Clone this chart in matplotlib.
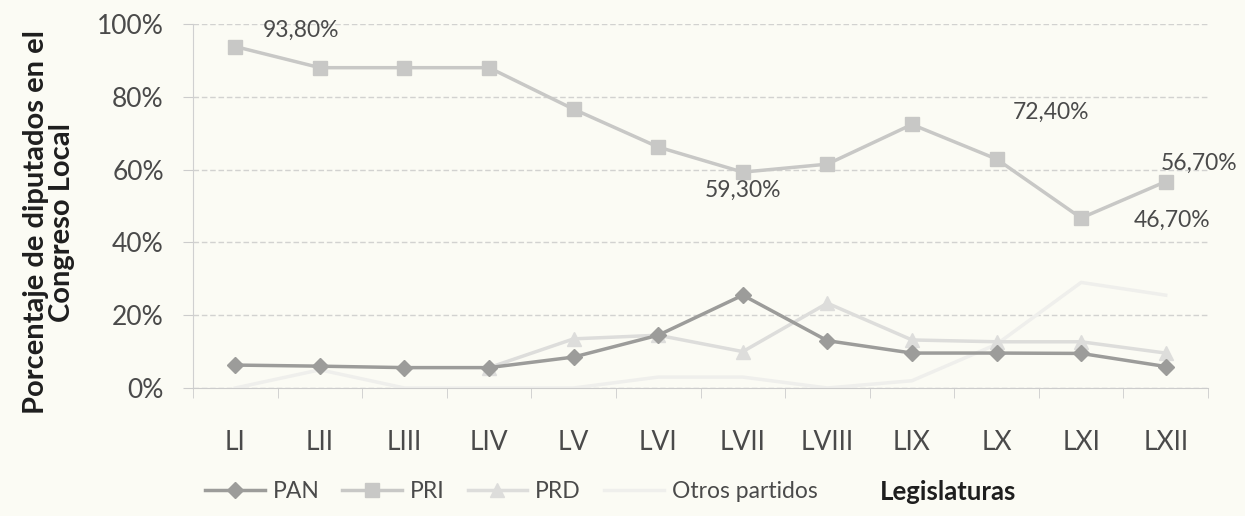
import numpy as np
import matplotlib
matplotlib.use('Agg')
import matplotlib.pyplot as plt

legislaturas = ['LI', 'LII', 'LIII', 'LIV', 'LV', 'LVI', 'LVII', 'LVIII',
                'LIX', 'LX', 'LXI', 'LXII']
pan = [6.3, 6.0, 5.6, 5.6, 8.5, 14.5, 25.5, 13.0, 9.6, 9.6, 9.5, 5.9]
pri = [93.8, 88.0, 88.0, 88.0, 76.6, 66.2, 59.3, 61.5, 72.4, 62.9, 46.7, 56.7]
prd = [np.nan, np.nan, np.nan, 5.6, 13.5, 14.5, 10.0, 23.3, 13.2, 12.7,
       12.7, 9.6]
otros = [0.0, 5.0, 0.0, 0.0, 0.0, 3.0, 3.0, 0.0, 2.0, 12.0, 29.0, 25.5]
etiquetas = {0: '93,80%', 6: '59,30%', 8: '72,40%', 10: '46,70%',
             11: '56,70%'}

plt.rcParams['font.family'] = ['Lato', 'DejaVu Sans']
bg = '#fbfbf4'
txt_color = '#4a4a4a'
fig = plt.figure(figsize=(12.45, 5.16), dpi=100, facecolor=bg)
ax = fig.add_axes([193 / 1245, 1 - 388 / 516, 1015 / 1245, 364 / 516])
ax.set_facecolor(bg)

x = np.arange(len(legislaturas))
ax.plot(x, otros, '-', color='#efefec', lw=2.5, label='Otros partidos',
        zorder=2)
ax.plot(x, prd, '-^', color='#dddddb', lw=2.5, ms=10, label='PRD', zorder=3)
ax.plot(x, pan, '-D', color='#9c9c9a', lw=2.5, ms=8, label='PAN', zorder=4)
ax.plot(x, pri, '-s', color='#c8c8c6', lw=2.5, ms=10.5, label='PRI',
        zorder=5)

# posiciones de las etiquetas de datos (solo PRI), en puntos
offsets = {0: (47, 12, 'center'), 6: (0, -13, 'center'),
           8: (100, 9, 'center'), 10: (38, -2, 'left'),
           11: (24, 13, 'center')}
for i, txt in etiquetas.items():
    dx, dy, ha = offsets[i]
    ax.annotate(txt, (x[i], pri[i]), xytext=(dx, dy),
                textcoords='offset points', ha=ha, va='center', fontsize=16.5,
                color=txt_color)

ax.set_xlim(-0.5, len(legislaturas) - 0.5)
ax.set_ylim(0, 100)
ax.set_yticks(range(0, 101, 20))
ax.set_yticklabels(['%d%%' % v for v in range(0, 101, 20)], fontsize=19,
                   color=txt_color)
ax.set_xticks(x)
ax.set_xticklabels(legislaturas, fontsize=19, color=txt_color)
ax.set_xticks(np.arange(-0.5, len(legislaturas)), minor=True)
ax.tick_params(axis='x', which='major', length=0, pad=30)
ax.tick_params(axis='x', which='minor', length=7, color='#cccccc')
ax.tick_params(axis='y', length=7, color='#cccccc', pad=14)
ax.yaxis.grid(True, color='#d2d2d0', ls=(0, (4, 2)), lw=1)
for s in ['top', 'right']:
    ax.spines[s].set_visible(False)
ax.spines['left'].set_color('#d0d0d0')
ax.spines['bottom'].set_color('#cccccc')

fig.text(0.039, 1 - 222 / 516,
         'Porcentaje de diputados en el\nCongreso Local', rotation=90,
         ha='center', va='center', fontsize=21, fontweight='bold',
         color='#1e1e1e', linespacing=1.0)

handles, labels = ax.get_legend_handles_labels()
order = [2, 3, 1, 0]
fig.legend([handles[i] for i in order], [labels[i] for i in order],
           loc='center left', bbox_to_anchor=(205 / 1245, 1 - 492 / 516),
           ncol=4, frameon=False, fontsize=16.5, handlelength=2.6,
           handletextpad=0.35, columnspacing=1.0, borderpad=0,
           borderaxespad=0, labelcolor=txt_color)
fig.text(880 / 1245, 1 - 492 / 516, 'Legislaturas', fontsize=18.5,
         fontweight='bold', color='#1e1e1e', va='center')

fig.savefig('out.png', dpi=100, facecolor=bg)
